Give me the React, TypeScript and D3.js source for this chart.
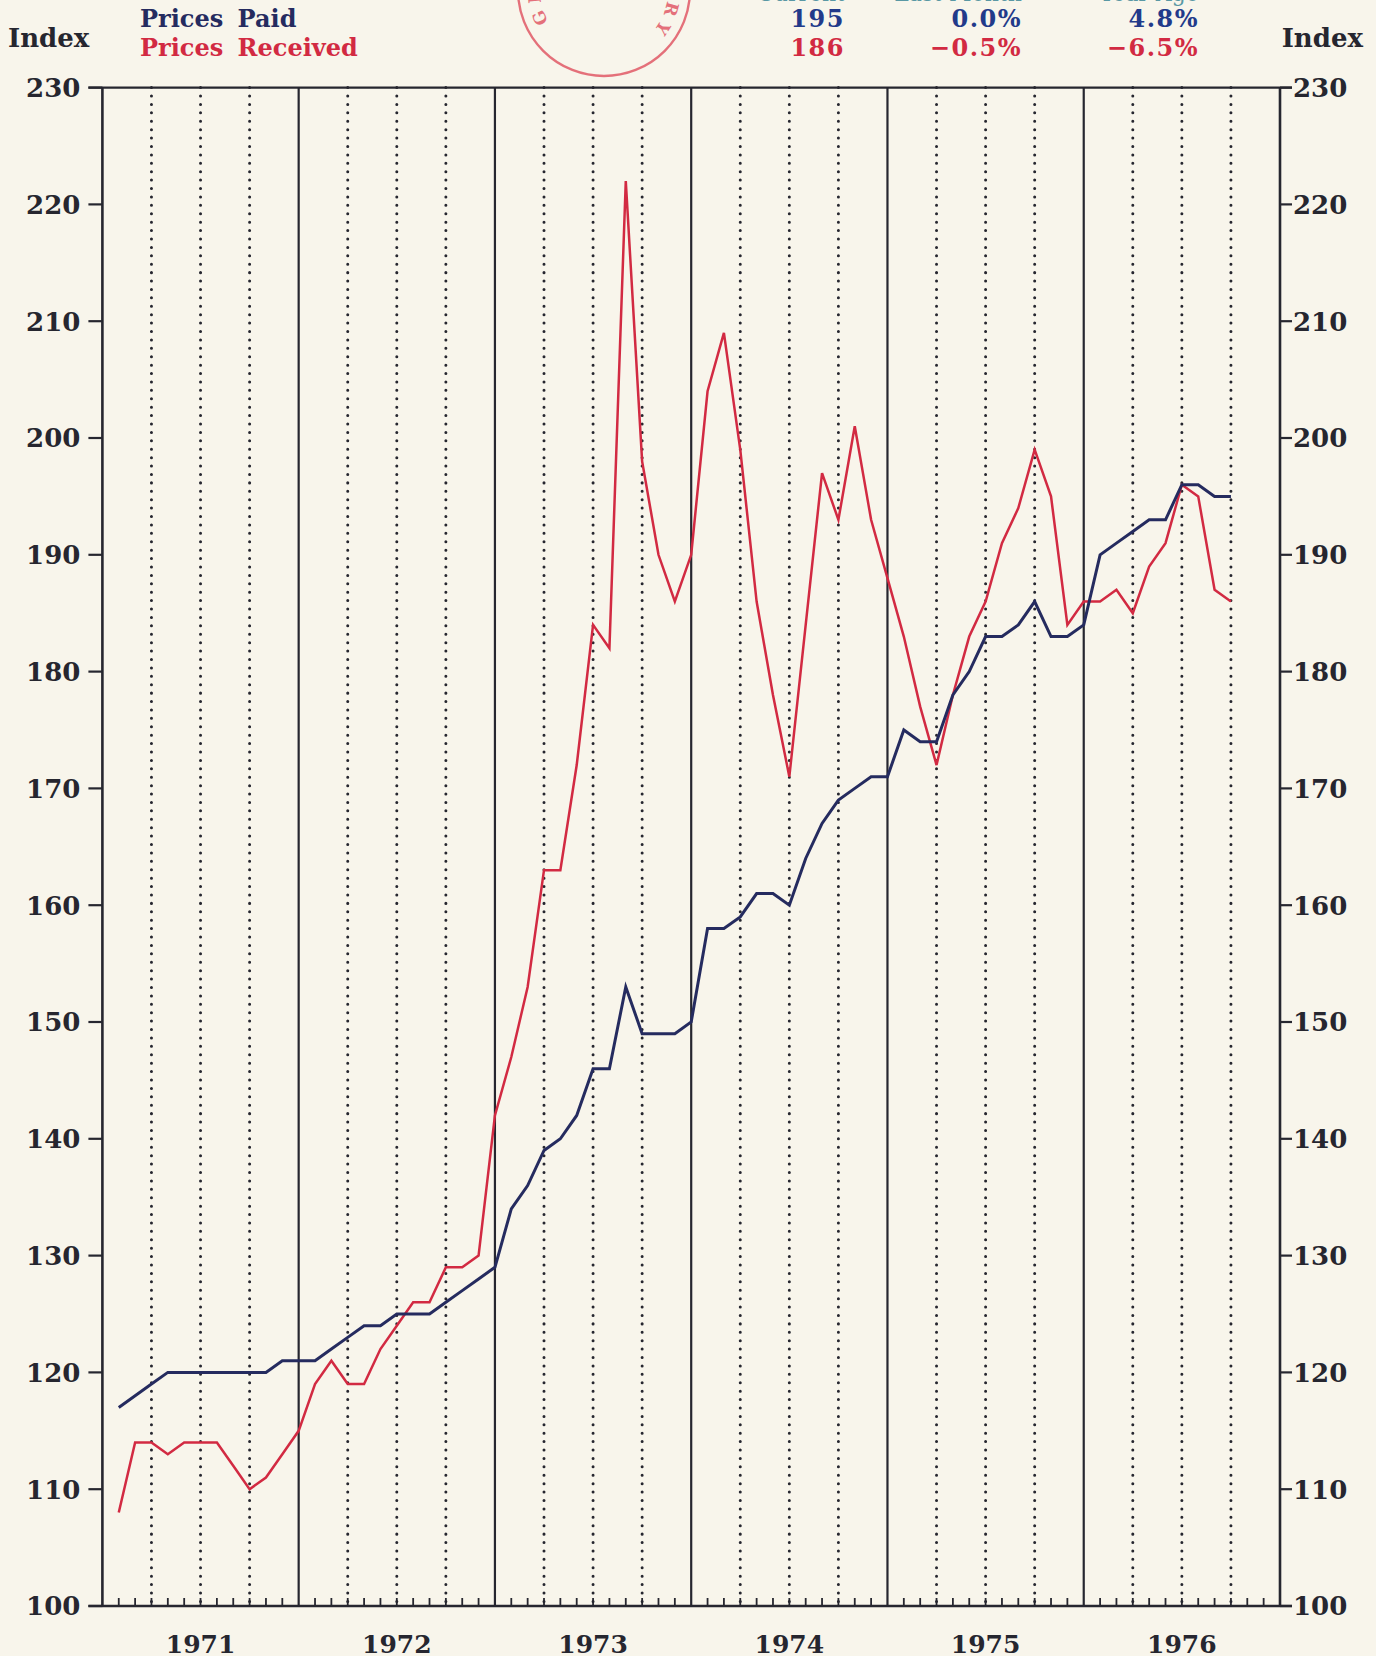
import React from 'react';
import * as d3 from 'd3';

// month index: 1 = Jan 1971 ... 69 = Sep 1976 (plotted at month end)
const months = d3.range(1, 70);

const pricesReceived = [
  108, 114, 114, 113, 114, 114, 114, 112, 110, 111, 113, 115,
  119, 121, 119, 119, 122, 124, 126, 126, 129, 129, 130, 142,
  147, 153, 163, 163, 172, 184, 182, 222, 198, 190, 186, 190,
  204, 209, 199, 186, 178, 171, 184, 197, 193, 201, 193, 188,
  183, 177, 172, 178, 183, 186, 191, 194, 199, 195, 184, 186,
  186, 187, 185, 189, 191, 196, 195, 187, 186,
];

const pricesPaid = [
  117, 118, 119, 120, 120, 120, 120, 120, 120, 120, 121, 121,
  121, 122, 123, 124, 124, 125, 125, 125, 126, 127, 128, 129,
  134, 136, 139, 140, 142, 146, 146, 153, 149, 149, 149, 150,
  158, 158, 159, 161, 161, 160, 164, 167, 169, 170, 171, 171,
  175, 174, 174, 178, 180, 183, 183, 184, 186, 183, 183, 184,
  190, 191, 192, 193, 193, 196, 196, 195, 195,
];

const yTicks = d3.range(100, 231, 10);
const years = ['1971', '1972', '1973', '1974', '1975', '1976'];
const statHeads = ['Current', 'Last Month', 'Year Ago'];
const paidStats = ['195', '0.0%', '4.8%'];
const receivedStats = ['186', '\u22120.5%', '\u22126.5%'];

const W = 1376;
const H = 1656;
const BG = '#f8f5eb';
const RED = '#d22a42';
const BLUE = '#252b5f';
const INK = '#26262f';
const STAMP = '#e0505e';
const FONT = '"DejaVu Serif", serif';

export default function App() {
  const x = d3.scaleLinear().domain([0, 72]).range([102.4, 1280]);
  const y = d3.scaleLinear().domain([100, 230]).range([1606, 87.6]);

  const line = d3.line<number>()
    .x((d, i) => x(months[i]))
    .y(d => y(d));

  const quarterLines = d3.range(3, 72, 3).filter(m => m % 12 !== 0);
  const yearLines = d3.range(12, 72, 12);
  const monthTicks = d3.range(1, 72).filter(m => m % 12 !== 0);

  const statCols = [845, 1022, 1199];

  // stamp geometry (mostly above the page edge)
  const sc = { x: 604, y: -10, r: 86 };
  const tr = 64;
  const a0 = (150 * Math.PI) / 180;
  const a1 = (398 * Math.PI) / 180;
  const stampPath = `M${sc.x + tr * Math.cos(a0)},${sc.y + tr * Math.sin(a0)} A${tr},${tr} 0 1 1 ${sc.x + tr * Math.cos(a1)},${sc.y + tr * Math.sin(a1)}`;
  const arcLen = tr * (a1 - a0);

  return (
    <svg width={W} height={H} style={{ position: 'absolute', left: 0, top: 0, display: 'block' }}
      fontFamily={FONT} fontWeight="bold">
      <rect width={W} height={H} fill={BG} />

      {/* library stamp */}
      <g opacity={0.8}>
        <circle cx={sc.x} cy={sc.y} r={sc.r} fill="none" stroke={STAMP} strokeWidth={2.4} />
        <path id="stampArc" d={stampPath} fill="none" />
        <text fontSize={17} fill={STAMP}>
          <textPath href="#stampArc" textLength={arcLen} lengthAdjust="spacing">GENERAL LIBRARY</textPath>
        </text>
      </g>

      {/* header */}
      <text x={8} y={47} fontSize={26} fill={INK}>Index</text>
      <text x={1363} y={47} fontSize={26} fill={INK} textAnchor="end">Index</text>
      <text x={140} y={27} fontSize={24} fill={BLUE} wordSpacing={6}>Prices Paid</text>
      <text x={140} y={56} fontSize={24} fill={RED} wordSpacing={6}>Prices Received</text>
      {statHeads.map((s, i) => (
        <text key={s} x={statCols[i]} y={1} fontSize={22} fill="#5a98a4" textAnchor="end" fontWeight="normal">{s}</text>
      ))}
      {paidStats.map((s, i) => (
        <text key={'p' + i} x={statCols[i]} y={27} fontSize={24} fill="#223a8a" textAnchor="end" letterSpacing={1.5}>{s}</text>
      ))}
      {receivedStats.map((s, i) => (
        <text key={'r' + i} x={statCols[i]} y={56} fontSize={24} fill={RED} textAnchor="end" letterSpacing={1.5}>{s}</text>
      ))}

      {/* quarter dotted lines */}
      {quarterLines.map(m => (
        <line key={'q' + m} x1={x(m)} x2={x(m)} y1={y(230)} y2={y(100)}
          stroke={INK} strokeWidth={3} strokeDasharray="0.01 8.4" strokeLinecap="round" />
      ))}
      {/* year lines */}
      {yearLines.map(m => (
        <line key={'yl' + m} x1={x(m)} x2={x(m)} y1={y(230)} y2={y(100)} stroke={INK} strokeWidth={2.2} />
      ))}
      {/* month ticks */}
      {monthTicks.map(m => (
        <line key={'mt' + m} x1={x(m)} x2={x(m)} y1={y(100)} y2={y(100) - 8} stroke={INK} strokeWidth={1.8} />
      ))}

      {/* frame */}
      <line x1={x(0)} x2={x(0)} y1={y(230)} y2={y(100)} stroke={INK} strokeWidth={2.6} />
      <line x1={x(72)} x2={x(72)} y1={y(230)} y2={y(100)} stroke={INK} strokeWidth={2.6} />
      <line x1={x(0) - 14} x2={x(72) + 12} y1={y(230)} y2={y(230)} stroke={INK} strokeWidth={2.4} />
      <line x1={x(0) - 14} x2={x(72) + 12} y1={y(100)} y2={y(100)} stroke={INK} strokeWidth={2.4} />

      {/* y ticks */}
      {yTicks.map(t => (
        <g key={'yt' + t}>
          <line x1={x(0) - 14} x2={x(0)} y1={y(t)} y2={y(t)} stroke={INK} strokeWidth={2.2} />
          <line x1={x(72)} x2={x(72) + 12} y1={y(t)} y2={y(t)} stroke={INK} strokeWidth={2.2} />
          <text x={x(0) - 22} y={y(t)} dy="0.36em" fontSize={26} fill={INK} textAnchor="end">{t}</text>
          <text x={x(72) + 13} y={y(t)} dy="0.36em" fontSize={26} fill={INK}>{t}</text>
        </g>
      ))}

      {/* year labels */}
      {years.map((yr, i) => (
        <text key={yr} x={x(6 + 12 * i)} y={1653} fontSize={25} fill={INK} textAnchor="middle">{yr}</text>
      ))}

      {/* series */}
      <path d={line(pricesReceived) || ''} fill="none" stroke={RED} strokeWidth={2.5} strokeLinejoin="miter" />
      <path d={line(pricesPaid) || ''} fill="none" stroke={BLUE} strokeWidth={3} strokeLinejoin="miter" />
    </svg>
  );
}
